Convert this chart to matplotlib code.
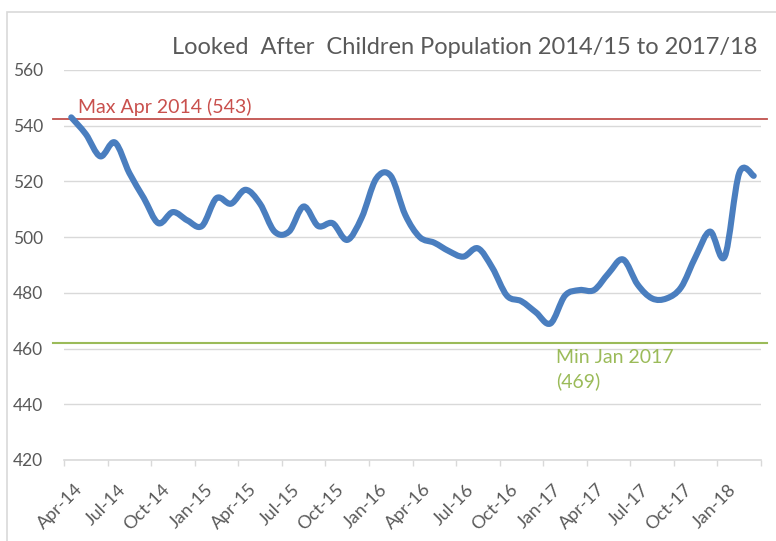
import numpy as np
import matplotlib
matplotlib.use("Agg")
import matplotlib.pyplot as plt
from matplotlib.path import Path
from matplotlib.patches import PathPatch, Rectangle
from matplotlib.transforms import ScaledTranslation

# monthly looked after children counts, Apr-14 .. Mar-18
lac = [543, 537, 529, 534, 523, 514, 505, 509, 506, 504, 514, 512,
       517, 512, 502, 502, 511, 504, 505, 499, 507, 521, 522, 508,
       500, 498, 495, 493, 496, 489, 479, 477, 473, 469, 479, 481,
       481, 487, 492, 483, 478, 478, 482, 493, 502, 493, 523, 522]
tick_labels = ['Apr-14', 'Jul-14', 'Oct-14', 'Jan-15', 'Apr-15', 'Jul-15', 'Oct-15', 'Jan-16',
               'Apr-16', 'Jul-16', 'Oct-16', 'Jan-17', 'Apr-17', 'Jul-17', 'Oct-17', 'Jan-18', '']
max_label = 'Max Apr 2014 (543)'
min_label = 'Min Jan 2017\n(469)'
max_level = 542.5
min_level = 462

plt.rcParams['font.family'] = ['Lato', 'DejaVu Sans']
grey_txt = '#595959'
grid_c = '#D9D9D9'

fig = plt.figure(figsize=(7.76, 5.41), dpi=100)
ax = fig.add_axes([64 / 776, 81 / 541, 697 / 776, 390 / 541])

x = np.arange(len(lac)) + 0.5
y = np.array(lac, dtype=float)

# smoothed line like Excel: cubic bezier segments through the points
verts = [(x[0], y[0])]
codes = [Path.MOVETO]
n = len(x)
for i in range(n - 1):
    p0 = np.array([x[max(i - 1, 0)], y[max(i - 1, 0)]])
    p1 = np.array([x[i], y[i]])
    p2 = np.array([x[i + 1], y[i + 1]])
    p3 = np.array([x[min(i + 2, n - 1)], y[min(i + 2, n - 1)]])
    c1 = p1 + (p2 - p0) / 6
    c2 = p2 - (p3 - p1) / 6
    verts += [tuple(c1), tuple(c2), tuple(p2)]
    codes += [Path.CURVE4] * 3
ax.add_patch(PathPatch(Path(verts, codes), fill=False, ec='#4A7EBF', lw=4.4,
                       capstyle='round', joinstyle='round', zorder=4))

ax.set_xlim(0, 48)
ax.set_ylim(420, 560)
ax.set_yticks(range(420, 561, 20))
ax.grid(axis='y', color=grid_c, lw=1)
ax.set_axisbelow(True)
for s in ['left', 'right', 'top']:
    ax.spines[s].set_visible(False)
ax.spines['bottom'].set_color(grid_c)
ax.spines['bottom'].set_linewidth(1.2)

ax.set_xticks(range(0, 49, 3))
ax.set_xticklabels(tick_labels, rotation=45, ha='right', va='top', rotation_mode='anchor')
ax.tick_params(axis='x', length=4.3, width=1, color=grid_c, pad=11, labelsize=13, labelcolor=grey_txt)
ax.tick_params(axis='y', length=0, pad=15, labelsize=12.5, labelcolor=grey_txt)
off = ScaledTranslation(10 / 100, 0, fig.dpi_scale_trans)
for lbl in ax.get_xticklabels():
    lbl.set_transform(lbl.get_transform() + off)

# max / min reference lines, running a little past the plot area
ax.plot([-0.016, 1.009], [max_level, max_level], color='#C0504D', lw=1.3,
        transform=ax.get_yaxis_transform(), clip_on=False, zorder=3)
ax.plot([-0.016, 1.009], [min_level, min_level], color='#9BBB59', lw=1.5,
        transform=ax.get_yaxis_transform(), clip_on=False, zorder=3)
ax.text(0.95, 546.8, max_label, color='#C9504D', fontsize=14, va='center', ha='left')
ax.text(33.9, 459.9, min_label, color='#9BBB59', fontsize=14, va='top', ha='left', linespacing=1.4)

fig.text(757 / 776, 1 - 48 / 541, 'Looked  After  Children Population 2014/15 to 2017/18',
         ha='right', va='center', fontsize=17, color=grey_txt)

# chart border (cropped at right and bottom)
fig.add_artist(Rectangle((7 / 776, -0.1), 1.2, 1.1 - 12 / 541, transform=fig.transFigure,
                         fill=False, ec=grid_c, lw=1.2))

fig.savefig('out.png', dpi=100)
